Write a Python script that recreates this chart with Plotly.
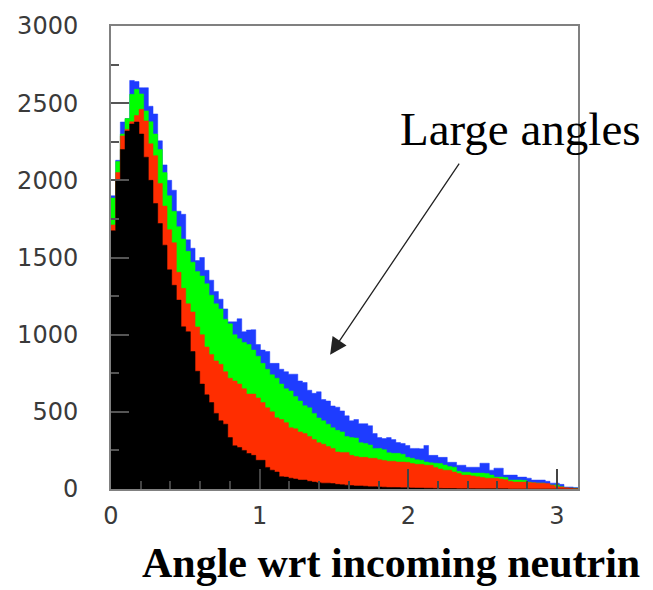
import numpy as np
import plotly.graph_objects as go

# histogram: 100 bins over [0, pi]
n_bins = 100
x_min, x_max = 0.0, np.pi

blue_counts = [1900, 2130, 2378, 2400, 2647, 2640, 2600, 2600, 2480, 2430,
               2256, 2100, 2000, 1936, 1800, 1780, 1615, 1560, 1480, 1500,
               1417, 1353, 1280, 1230, 1167, 1083, 1083, 1103, 1019, 1030,
               1032, 936, 900, 891, 814, 814, 776, 760, 744, 744,
               700, 690, 640, 620, 630, 580, 570, 538, 530, 506,
               474, 442, 450, 423, 423, 410, 359, 333, 327, 333,
               320, 301, 295, 282, 263, 263, 260, 282, 218, 218,
               205, 205, 173, 173, 154, 154, 141, 141, 141, 167,
               167, 122, 135, 135, 90, 90, 90, 77, 77, 70,
               58, 58, 58, 50, 38, 38, 30, 13, 13, 10]

green_counts = [1885, 2122, 2300, 2400, 2557, 2590, 2560, 2450, 2380, 2300,
                2200, 2050, 1900, 1800, 1700, 1620, 1540, 1470, 1410, 1380,
                1330, 1256, 1200, 1167, 1100, 1070, 1000, 974, 950, 936,
                900, 860, 814, 776, 740, 718, 680, 650, 635, 600,
                570, 540, 526, 490, 460, 442, 420, 397, 380, 370,
                340, 333, 330, 300, 295, 285, 263, 263, 255, 235,
                231, 231, 225, 205, 199, 190, 186, 175, 170, 167,
                165, 155, 145, 141, 115, 109, 109, 103, 103, 103,
                100, 90, 77, 77, 75, 58, 58, 58, 56, 45,
                40, 38, 38, 30, 26, 26, 15, 6, 6, 5]

red_counts = [1711, 2050, 2288, 2330, 2380, 2420, 2460, 2385, 2237, 2160,
              1980, 1833, 1680, 1596, 1404, 1300, 1200, 1147, 1050, 1000,
              920, 872, 830, 808, 760, 718, 700, 680, 650, 615,
              615, 590, 560, 526, 500, 461, 450, 430, 397, 390,
              370, 359, 340, 320, 300, 290, 275, 263, 240, 237,
              237, 218, 210, 205, 205, 199, 199, 190, 185, 180,
              180, 175, 175, 173, 165, 160, 160, 154, 154, 140,
              130, 122, 122, 110, 100, 90, 90, 85, 80, 75,
              70, 70, 70, 65, 60, 50, 45, 45, 45, 42,
              40, 38, 38, 35, 25, 15, 13, 8, 6, 3]

black_counts = [1673, 2000, 2200, 2320, 2365, 2378, 2300, 2150, 2000, 1850,
                1720, 1580, 1420, 1320, 1224, 1051, 1019, 891, 763, 680,
                610, 560, 490, 442, 420, 333, 280, 269, 250, 230,
                218, 186, 186, 140, 122, 110, 80, 77, 70, 65,
                58, 58, 50, 45, 40, 38, 38, 35, 30, 28,
                25, 22, 20, 20, 18, 15, 15, 13, 12, 10,
                10, 9, 8, 8, 7, 6, 6, 5, 5, 4,
                4, 3, 3, 3, 2, 2, 2, 2, 1, 1,
                1, 1, 1, 1, 1, 0, 0, 0, 0, 0,
                0, 0, 0, 0, 0, 0, 0, 0, 0, 0]

series = [
    ("blue", blue_counts, "#1e3cff"),
    ("green", green_counts, "#00ff00"),
    ("red", red_counts, "#ff2d00"),
    ("black", black_counts, "#000000"),
]

x_ticks = [0, 1, 2, 3]
y_ticks = [0, 500, 1000, 1500, 2000, 2500, 3000]

edges = np.linspace(x_min, x_max, n_bins + 1)

fig = go.Figure()
for name, counts, color in series:
    xs = list(edges)
    ys = list(counts) + [counts[-1]]
    fig.add_trace(go.Scatter(
        x=xs, y=ys, mode="lines", line=dict(shape="hv", width=0.5, color=color),
        fill="tozeroy", fillcolor=color, name=name, showlegend=False,
        hoverinfo="skip",
    ))

axis_color = "#808080"
fig.update_layout(
    width=653, height=590,
    margin=dict(l=111, r=75, t=20, b=101),
    paper_bgcolor="white", plot_bgcolor="white",
    showlegend=False,
    xaxis=dict(
        range=[x_min, x_max], tickvals=x_ticks, ticktext=[str(t) for t in x_ticks],
        ticks="inside", ticklen=20, tickwidth=1.5, tickcolor="#444",
        minor=dict(dtick=0.2, ticks="inside", ticklen=8, tickwidth=1.5, tickcolor="#444"),
        showgrid=False, zeroline=False, showline=True, mirror=True,
        linecolor=axis_color, linewidth=2,
        tickfont=dict(family="DejaVu Sans", size=24, color="#3a3a3a"),
        ticklabelstandoff=4,
    ),
    yaxis=dict(
        range=[0, 3000], tickvals=y_ticks, ticktext=[str(t) for t in y_ticks],
        ticks="inside", ticklen=18, tickwidth=1.5, tickcolor="#555",
        minor=dict(dtick=250, ticks="inside", ticklen=8, tickwidth=1.5, tickcolor="#555"),
        showgrid=False, zeroline=False, showline=True, mirror=True,
        linecolor=axis_color, linewidth=2,
        tickfont=dict(family="DejaVu Sans", size=24, color="#3a3a3a"),
        ticklabelstandoff=26,
    ),
)

fig.add_annotation(
    xref="paper", yref="paper", x=(140 - 111) / 467, y=-0.16,
    xanchor="left", yanchor="middle", showarrow=False,
    text="<b>Angle wrt incoming neutrin</b>",
    font=dict(family="Liberation Serif", size=42, color="#000"),
)

fig.add_annotation(
    xref="x", yref="y", x=1.93, y=2330, xanchor="left", yanchor="middle",
    showarrow=False, text="Large angles",
    font=dict(family="Liberation Serif", size=47, color="#000"),
)

fig.add_annotation(
    xref="x", yref="y", axref="x", ayref="y",
    x=1.474, y=870, ax=2.349, ay=2118, text="",
    showarrow=True, arrowhead=2, arrowsize=2.6, arrowwidth=1.3, arrowcolor="#222",
)

fig.write_html("out.html")
